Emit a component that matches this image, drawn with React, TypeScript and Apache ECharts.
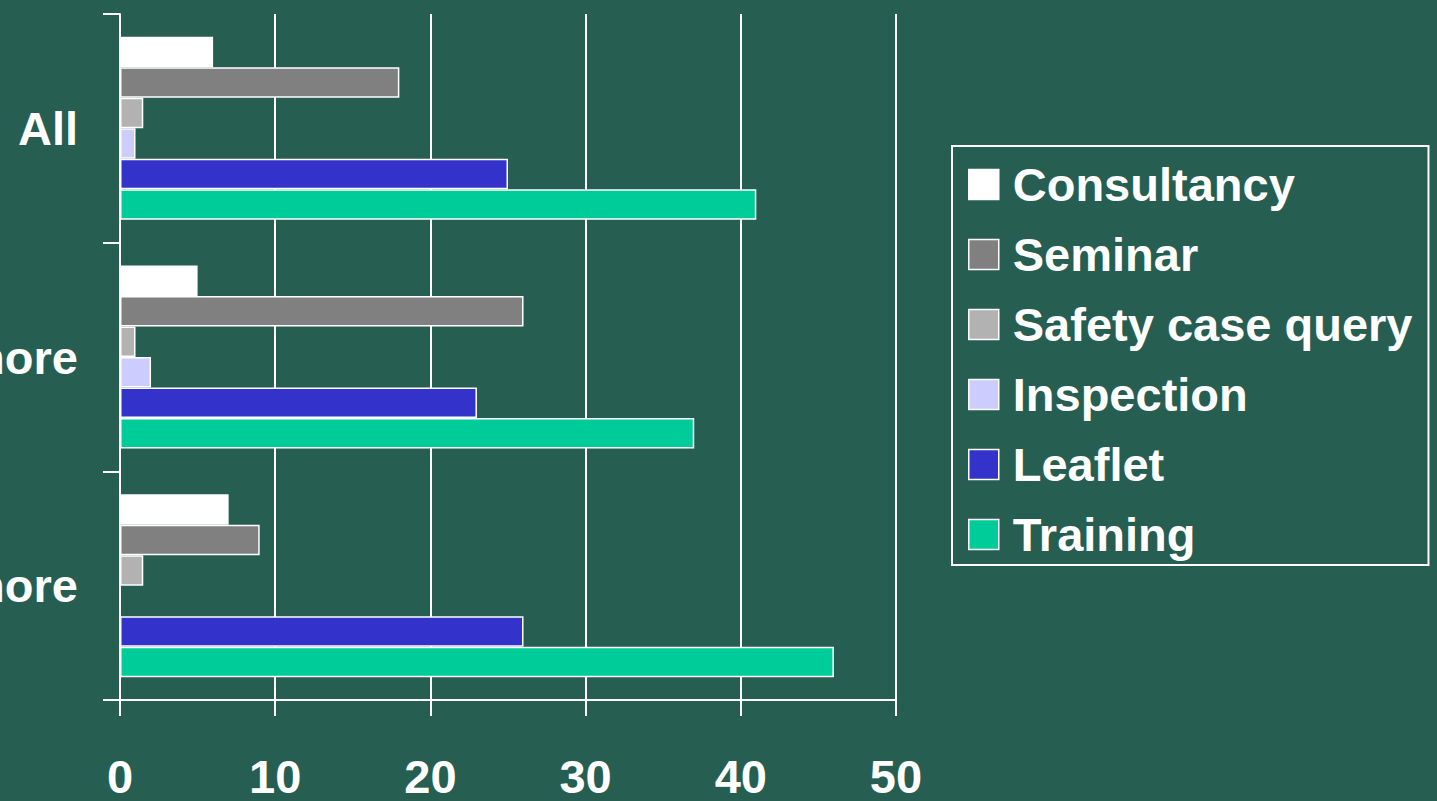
import React, { useEffect, useRef } from "react";
import * as echarts from "echarts";

const categories = ["All", "10 or more", "50 or more"];
const seriesNames = ["Consultancy", "Seminar", "Safety case query", "Inspection", "Leaflet", "Training"];
const consultancy = [6, 5, 7];
const seminar = [18, 26, 9];
const safetyCaseQuery = [1.5, 1, 1.5];
const inspection = [1, 2, 0];
const leaflet = [25, 23, 26];
const training = [41, 37, 46];
const xTicks = [0, 10, 20, 30, 40, 50];

const seriesData = [consultancy, seminar, safetyCaseQuery, inspection, leaflet, training];
const colors = ["#FFFFFF", "#808080", "#B2B2B2", "#CCCCFF", "#3333CC", "#00CC99"];

const FONT = "'Liberation Sans', Arial, Helvetica, sans-serif";

export default function App() {
  const ref = useRef<HTMLDivElement>(null);
  useEffect(() => {
    if (!ref.current) return;
    const chart = echarts.init(ref.current, null, { renderer: "svg" });
    chart.setOption({
      animation: false,
      backgroundColor: "#265E52",
      textStyle: { fontFamily: FONT },
      grid: {
        left: 120,
        right: 541,
        top: 14,
        bottom: 101,
        containLabel: false,
        outerBoundsMode: "none",
      },
      legend: {
        orient: "vertical",
        left: 952,
        top: 146,
        data: seriesNames,
        itemWidth: 30,
        itemHeight: 30,
        itemGap: 23,
        padding: [15, 16, 7, 16],
        borderColor: "#FFFFFF",
        borderWidth: 2,
        icon: "rect",
        itemStyle: { borderColor: "#FFFFFF", borderWidth: 1.5 },
        textStyle: {
          color: "#FFFFFF",
          fontSize: 47,
          fontWeight: "bold",
          fontFamily: FONT,
          lineHeight: 40,
          padding: [0, 0, 0, 9],
        },
      },
      xAxis: {
        type: "value",
        min: xTicks[0],
        max: xTicks[xTicks.length - 1],
        interval: 10,
        axisLine: { show: true, lineStyle: { color: "#FFFFFF", width: 2 } },
        axisTick: { show: true, length: 16, lineStyle: { color: "#FFFFFF", width: 2 } },
        splitLine: { show: true, lineStyle: { color: "#FFFFFF", width: 2 } },
        axisLabel: {
          color: "#FFFFFF",
          fontSize: 47,
          fontWeight: "bold",
          fontFamily: FONT,
          margin: 58,
          lineHeight: 36,
        },
      },
      yAxis: {
        type: "category",
        inverse: true,
        data: categories,
        axisLine: { show: true, lineStyle: { color: "#FFFFFF", width: 2 } },
        axisTick: { show: true, length: 17, lineStyle: { color: "#FFFFFF", width: 2 } },
        splitLine: { show: false },
        axisLabel: {
          color: "#FFFFFF",
          fontSize: 47,
          fontWeight: "bold",
          fontFamily: FONT,
          margin: 42,
        },
      },
      series: seriesNames.map((name, i) => ({
        name,
        type: "bar",
        data: seriesData[i],
        barGap: "0%",
        barCategoryGap: "20%",
        itemStyle: { color: colors[i], borderColor: "#FFFFFF", borderWidth: 1.5 },
      })),
    });
    return () => chart.dispose();
  }, []);
  return (
    <div
      ref={ref}
      style={{ position: "fixed", left: 0, top: 0, width: 1437, height: 801 }}
    />
  );
}
